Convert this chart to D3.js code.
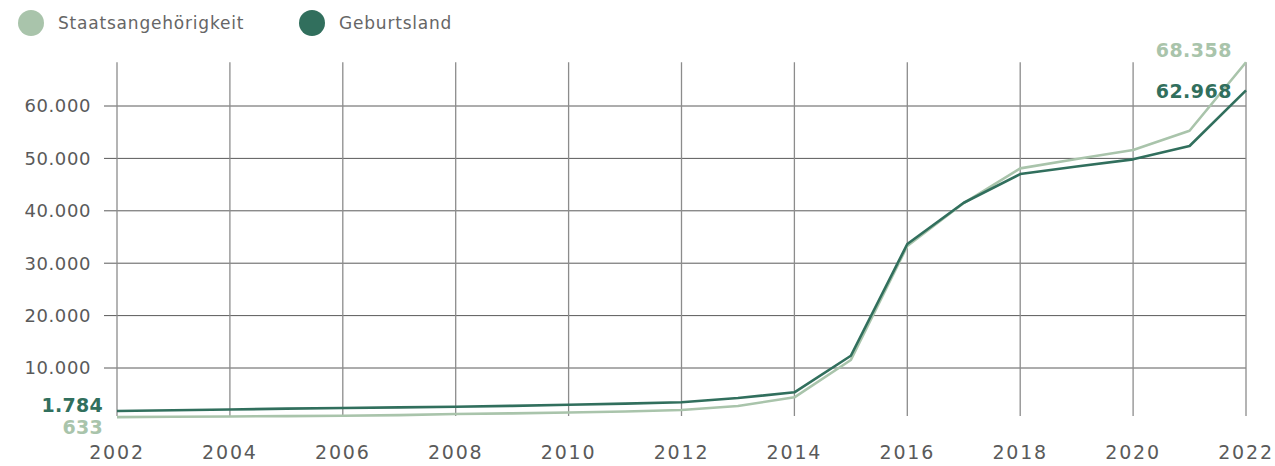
<!DOCTYPE html>
<html>
<head>
<meta charset="utf-8">
<script src="https://cdn.jsdelivr.net/npm/d3@7.9.0/dist/d3.min.js"></script>
<style>
  body { margin: 0; background: #fff; }
  svg { display: block; font-family: "DejaVu Sans", sans-serif; }
</style>
</head>
<body>
<svg id="chart" width="1275" height="466"></svg>
<script>
const years = d3.range(2002, 2023);
const staatsangehoerigkeit = [633, 690, 750, 820, 900, 1000, 1220, 1350, 1500, 1700, 1980, 2750, 4410, 11520, 33280, 41480, 48100, 49880, 51590, 55270, 68358];
const geburtsland = [1784, 1930, 2080, 2250, 2370, 2480, 2610, 2780, 2980, 3200, 3450, 4270, 5360, 12340, 33660, 41540, 47010, 48440, 49820, 52360, 62968];
const yTicks = [10000, 20000, 30000, 40000, 50000, 60000];
const xTicks = d3.range(2002, 2023, 2);
const series = [
  { name: "Staatsangehörigkeit", values: staatsangehoerigkeit, color: "#a9c4ab" },
  { name: "Geburtsland", values: geburtsland, color: "#316f5d" }
];

const svg = d3.select("#chart");
const fmt = d3.formatLocale({ decimal: ",", thousands: ".", grouping: [3], currency: ["", "€"] }).format(",d");

const x = d3.scaleLinear().domain([2002, 2022]).range([117, 1246]);
const y = d3.scaleLinear().domain([0, 60000]).range([420.4, 106]);

// grid
const g = svg.append("g");
g.selectAll(".hgrid")
  .data(yTicks)
  .enter().append("line")
  .attr("x1", 104).attr("x2", x(2022))
  .attr("y1", d => y(d)).attr("y2", d => y(d))
  .attr("stroke", "#5a5a5a").attr("stroke-width", 1);

g.selectAll(".vgrid")
  .data(xTicks)
  .enter().append("line")
  .attr("x1", d => x(d)).attr("x2", d => x(d))
  .attr("y1", y(68358)).attr("y2", 416)
  .attr("stroke", "#8c8c8c").attr("stroke-width", 1.3);

// axis labels
g.selectAll(".ylab")
  .data(yTicks)
  .enter().append("text")
  .attr("x", 91).attr("y", d => y(d))
  .attr("dy", "0.36em")
  .attr("text-anchor", "end")
  .attr("fill", "#5a5a5a")
  .style("font-size", "18px")
  .style("letter-spacing", "0.6px")
  .text(d => fmt(d));

g.selectAll(".xlab")
  .data(xTicks)
  .enter().append("text")
  .attr("x", d => x(d)).attr("y", 459)
  .attr("text-anchor", "middle")
  .attr("fill", "#5a5a5a")
  .style("font-size", "19px")
  .style("letter-spacing", "1.8px")
  .text(d => d);

// lines
const line = d3.line()
  .x((d, i) => x(years[i]))
  .y(d => y(d));

g.selectAll(".series")
  .data(series)
  .enter().append("path")
  .attr("fill", "none")
  .attr("stroke", d => d.color)
  .attr("stroke-width", 2.6)
  .attr("stroke-linejoin", "round")
  .attr("d", d => line(d.values));

// end labels
const endLabels = [
  { s: series[0], x: 1232, y: 57 },
  { s: series[1], x: 1232, y: 98 }
];
g.selectAll(".endlab")
  .data(endLabels)
  .enter().append("text")
  .attr("x", d => d.x).attr("y", d => d.y)
  .attr("text-anchor", "end")
  .attr("fill", d => d.s.color)
  .style("font-size", "19px")
  .style("font-weight", "bold")
  .style("letter-spacing", "0.5px")
  .text(d => fmt(d.s.values[d.s.values.length - 1]));

const startLabels = [
  { s: series[1], y: 412 },
  { s: series[0], y: 434 }
];
g.selectAll(".startlab")
  .data(startLabels)
  .enter().append("text")
  .attr("x", 103).attr("y", d => d.y)
  .attr("text-anchor", "end")
  .attr("fill", d => d.s.color)
  .style("font-size", "19px")
  .style("font-weight", "bold")
  .style("letter-spacing", "0.3px")
  .text(d => fmt(d.s.values[0]));

// legend
const legend = svg.append("g");
const legendX = [31, 312];
const items = legend.selectAll(".item")
  .data(series)
  .enter().append("g")
  .attr("transform", (d, i) => `translate(${legendX[i]},23)`);
items.append("circle").attr("r", 13).attr("fill", d => d.color);
items.append("text")
  .attr("x", 27).attr("dy", "0.36em")
  .attr("fill", "#666")
  .style("font-size", "17px")
  .style("letter-spacing", "0.8px")
  .text(d => d.name);
</script>
</body>
</html>
